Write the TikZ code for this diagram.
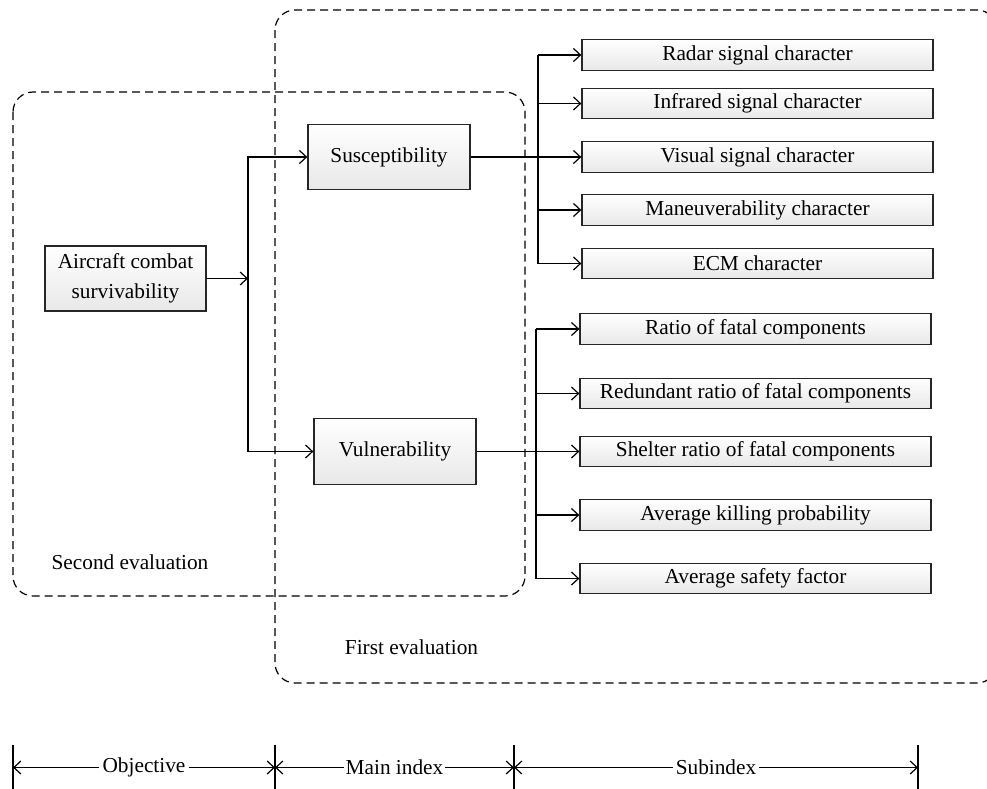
\documentclass[tikz,border=0pt]{standalone}
\usepackage{fontspec}
\setmainfont{Liberation Serif}
\usetikzlibrary{arrows.meta,positioning}
\tikzset{%
box/.style={draw=black!85,line width=1.3pt,top color=white,bottom color=gray!18,
  font=\fontsize{21.3}{30}\selectfont,inner sep=0pt,align=center},
subbox/.style={box,minimum width=351pt,minimum height=30.5pt},
trunk/.style={line width=1.2pt},
conn/.style={trunk,-{Straight Barb[length=7pt,width=13pt,line width=1.2pt]}},
dim/.style={trunk,{Straight Barb[length=7pt,width=13pt,line width=1.2pt]}-{Straight Barb[length=7pt,width=13pt,line width=1.2pt]}},
evalbox/.style={line width=1.2pt,dash pattern=on 8pt off 5pt,rounded corners=20pt},
lbl/.style={font=\fontsize{21.3}{25}\selectfont}
}

\begin{document}
\begin{tikzpicture}[x=1pt,y=-1pt]
\useasboundingbox (0,0) rectangle (987,788);
\clip (0,0) rectangle (987,788);
% evaluation regions
\draw[evalbox] (275,10) rectangle (997,683);
\draw[evalbox] (13,92) rectangle (525,596);
\node[lbl] (second) at (130,562) {Second evaluation};
\node[lbl] (first) at (411.5,647) {First evaluation};

% objective and main index
\node[box,minimum width=161pt,minimum height=65pt] (air) at (125.5,278.5) {Aircraft combat\\survivability};
\node[box,minimum width=162pt,minimum height=65pt] (sus) at (389,157) {Susceptibility};
\node[box,minimum width=162pt,minimum height=65.5pt] (vul) at (395,451.5) {Vulnerability};

% subindex
\foreach \name/\y/\txt in {rad/55/Radar signal character,
                           ir/103.5/Infrared signal character,
                           vis/157/Visual signal character,
                           man/210/Maneuverability character,
                           ecm/263.5/ECM character}
  \node[subbox] (\name) at (757.5,\y) {\txt};
\foreach \name/\y/\txt in {rfc/329/Ratio of fatal components,
                           rrf/393.5/Redundant ratio of fatal components,
                           srf/451.5/Shelter ratio of fatal components,
                           akp/515/Average killing probability,
                           asf/578.5/Average safety factor}
  \node[subbox] (\name) at (755.5,\y) {\txt};

% connectors
\coordinate (fork) at (248,278.5);
\draw[conn] (air) -- (fork);
\draw[conn] (fork) |- (sus);
\draw[conn] (fork) |- (vul);
\coordinate (sfork) at (538,157);
\draw[conn] (sus) -- (vis);
\draw[trunk] (sfork|-rad) -- (sfork|-ecm);
\foreach \n in {rad,ir,man,ecm}
  \draw[conn] (sfork|-\n) -- (\n);
\coordinate (vfork) at (536,451.5);
\draw[conn] (vul) -- (srf);
\draw[trunk] (vfork|-rfc) -- (vfork|-asf);
\foreach \n in {rfc,rrf,akp,asf}
  \draw[conn] (vfork|-\n) -- (\n);

% levels
\foreach \t/\x in {t0/13,t1/275,t2/514,t3/918}
{
  \draw[trunk] (\x,745) -- (\x,790);
  \coordinate (\t) at (\x,767.5);
}
\draw[dim] (t0) -- node[lbl,fill=white,inner xsep=4pt,inner ysep=0pt] (obj) {Objective} (t1);
\draw[dim] (t1) -- node[lbl,fill=white,inner xsep=2pt,inner ysep=0pt] (mainidx) {Main index} (t2);
\draw[dim] (t2) -- node[lbl,fill=white,inner xsep=3pt,inner ysep=0pt] (subidx) {Subindex} (t3);
\end{tikzpicture}
\end{document}
